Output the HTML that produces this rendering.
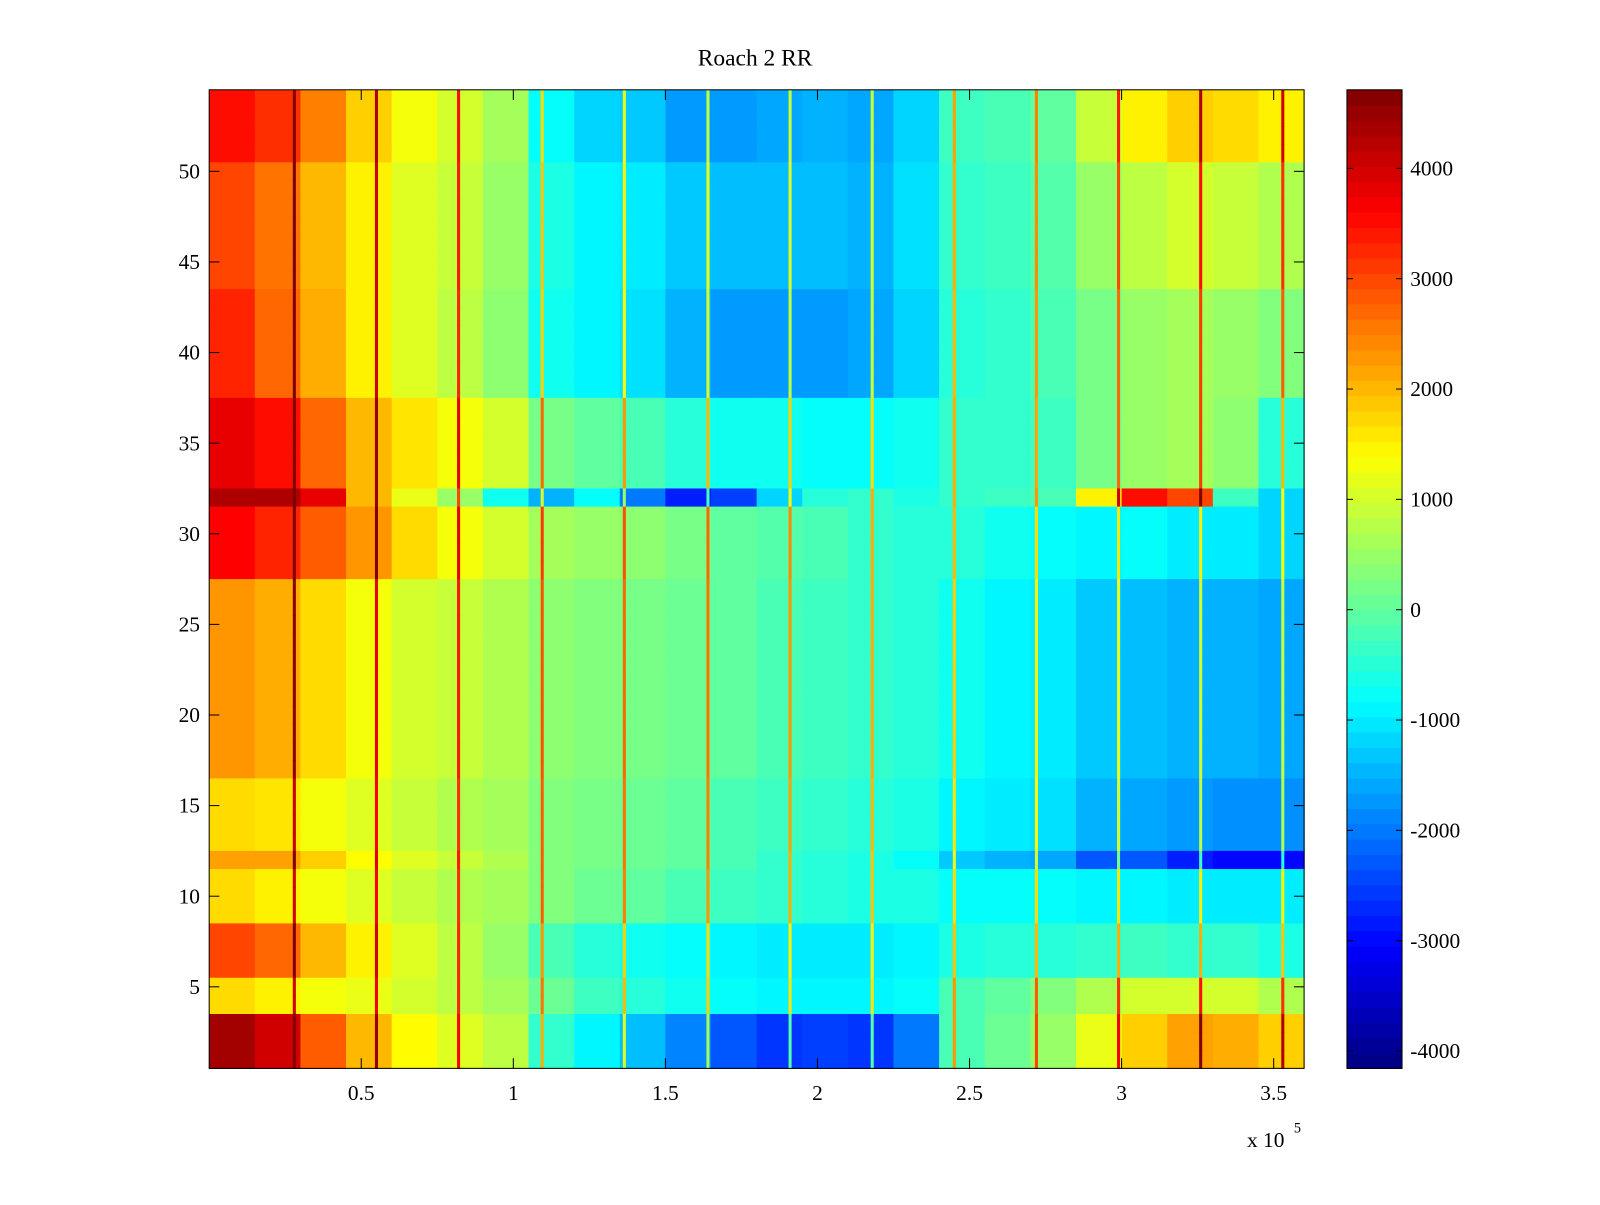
<!DOCTYPE html>
<html><head><meta charset="utf-8"><style>
body{margin:0;background:#fff;}
svg text{font-family:"Liberation Serif",serif;fill:#000;}
</style></head><body>
<svg id="chart" width="1600" height="1200" xmlns="http://www.w3.org/2000/svg">
<rect width="1600" height="1200" fill="#fff"/>
<g transform="scale(1.020408)">
<text x="740" y="64" font-size="23" text-anchor="middle">Roach 2 RR</text>
<g id="cells"></g>
<g id="stripes"></g>
<rect x="205" y="88" width="1073" height="959" fill="none" stroke="#000" stroke-width="1"/>
<g id="axes"></g>
<g id="cbar"></g>
<text x="1222" y="1124" font-size="21">x 10</text>
<text x="1268" y="1110" font-size="14">5</text>
</g>
</svg>
<script>
// bin width 15000 units, 24 bins from 0 to 3.6e5
const binWidth = 15000;
const bandStart = [51,44,38,33,32,28,17,13,12,9,6,4,1];
const bandEnd   = [54,50,43,37,32,31,27,16,12,11,8,5,3];
const bandA = [3500,3200,2500,1800,1300,1000,600,-800,-1200,-1300,-1700,-1700,-1600,-1500,-1600,-1200,-300,-200,0,900,1500,1800,1700,1500];
const bandB = [3000,2600,2000,1500,1100,900,500,-600,-900,-1000,-1300,-1400,-1400,-1400,-1500,-1100,-400,-300,-100,500,800,1000,900,700];
const bandC = [3300,2700,2100,1500,1100,800,400,-700,-900,-1100,-1500,-1700,-1700,-1700,-1600,-1200,-500,-400,-200,200,500,600,500,300];
const bandD = [3800,3500,2700,2000,1600,1300,1000,200,0,-200,-500,-700,-700,-800,-800,-700,-400,-400,-300,200,500,600,400,-500];
const bandE = [4300,4300,3800,2000,1200,500,-700,-1500,-800,-2000,-2800,-2500,-1200,-500,-400,-600,-400,-300,-200,1500,3500,3000,-300,-1200];
const bandF = [3600,3300,2800,2300,1700,1300,1000,600,500,400,200,0,-100,-200,-400,-500,-500,-700,-800,-900,-800,-1000,-1000,-1200];
const bandG = [2300,2100,1700,1300,1000,900,700,400,300,200,100,0,-200,-300,-400,-500,-700,-900,-1000,-1300,-1400,-1500,-1500,-1600];
const bandH = [1700,1600,1300,1100,900,700,600,300,200,100,0,-200,-300,-400,-500,-600,-900,-1000,-1100,-1500,-1600,-1700,-1800,-1800];
const bandI = [2200,2200,1800,1400,1100,900,700,300,200,100,0,-200,-400,-500,-600,-800,-1300,-1500,-1600,-2300,-2300,-2800,-3000,-3000];
const bandJ = [1700,1500,1300,1100,900,700,600,300,100,0,-200,-300,-400,-500,-600,-600,-800,-800,-800,-900,-900,-1000,-1000,-1000];
const bandK = [3000,2700,2000,1500,1100,800,500,-200,-500,-700,-800,-900,-1000,-1000,-1000,-900,-600,-500,-500,-400,-300,-400,-400,-600];
const bandL = [1700,1500,1300,1200,1000,800,600,100,-300,-500,-700,-800,-900,-900,-900,-800,-200,0,300,700,1000,1000,1000,700];
const bandM = [4400,4000,2800,2000,1400,1100,800,-400,-900,-1400,-1900,-2300,-2600,-2500,-2600,-2000,-200,100,500,1200,1800,2200,2100,1800];
const bandValues = [bandA,bandB,bandC,bandD,bandE,bandF,bandG,bandH,bandI,bandJ,bandK,bandL,bandM];
const stripeX = [28000,55000,82000,109500,136500,164000,191000,218000,245000,272000,299000,326000,353000];
const stripeBoost = 2500;
const xTicks = [0.5,1,1.5,2,2.5,3,3.5];
const xTickLabels = ["0.5","1","1.5","2","2.5","3","3.5"];
const yTicks = [5,10,15,20,25,30,35,40,45,50];
const cTicks = [4000,3000,2000,1000,0,-1000,-2000,-3000,-4000];

const NS="http://www.w3.org/2000/svg";
const L=205,R=1278,T=88,B=1047;
const xMin=0,xMax=360000,yMin=0.5,yMax=54.5,cMin=-4157,cMax=4712;
const xs=v=>L+(v-xMin)/(xMax-xMin)*(R-L);
const ys=v=>T+(yMax-v)/(yMax-yMin)*(B-T);
function jet(v){let t=(v-cMin)/(cMax-cMin);t=Math.max(0,Math.min(1,t));
 const c=x=>Math.round(255*Math.max(0,Math.min(1,x)));
 return `rgb(${c(1.5-Math.abs(4*t-3))},${c(1.5-Math.abs(4*t-2))},${c(1.5-Math.abs(4*t-1))})`;}
function mk(tag,attrs,parent){const e=document.createElementNS(NS,tag);for(const k in attrs)e.setAttribute(k,attrs[k]);parent.appendChild(e);return e;}

const cells=document.getElementById('cells');
const stripes=document.getElementById('stripes');
bandValues.forEach((vals,b)=>{
 for(let r=bandStart[b];r<=bandEnd[b];r++){
  const y0=ys(r+0.5),y1=ys(r-0.5);
  vals.forEach((v,k)=>{
   const x0=xs(k*binWidth),x1=xs((k+1)*binWidth);
   const el=mk('rect',{x:x0,y:y0,width:x1-x0+0.6,height:y1-y0+0.6,fill:jet(v)},cells);
   
   
  });
  stripeX.forEach(sx=>{
   const k=Math.min(vals.length-1,Math.floor(sx/binWidth));
   const el=mk('rect',{x:xs(sx)-1.5,y:y0,width:3,height:y1-y0+0.6,fill:jet(vals[k]+stripeBoost)},stripes);
   
   
  });
 }
});
const axes=document.getElementById('axes');
xTicks.forEach((t,i)=>{
 const x=xs(t*1e5);
 mk('line',{x1:x,x2:x,y1:B,y2:B-10,stroke:'#000'},axes);
 mk('line',{x1:x,x2:x,y1:T,y2:T+10,stroke:'#000'},axes);
 const tx=mk('text',{x:x,y:1078,'font-size':21,'text-anchor':'middle'},axes);tx.textContent=xTickLabels[i];
 
 
});
yTicks.forEach(t=>{
 const y=ys(t);
 mk('line',{x1:L,x2:L+10,y1:y,y2:y,stroke:'#000'},axes);
 mk('line',{x1:R,x2:R-10,y1:y,y2:y,stroke:'#000'},axes);
 const tx=mk('text',{x:196,y:y+7,'font-size':21,'text-anchor':'end'},axes);tx.textContent=t;
 
 
});
const cb=document.getElementById('cbar');
const CL=1320,CR=1374,N=64;
for(let i=0;i<N;i++){
 const v0=cMin+(cMax-cMin)*i/N,v1=cMin+(cMax-cMin)*(i+1)/N;
 const cy=v=>B-(v-cMin)/(cMax-cMin)*(B-T);
 const el=mk('rect',{x:CL,y:cy(v1),width:CR-CL,height:cy(v0)-cy(v1)+0.6,fill:jet((v0+v1)/2)},cb);
 
 
}
mk('rect',{x:CL,y:T,width:CR-CL,height:B-T,fill:'none',stroke:'#000'},cb);
cTicks.forEach(t=>{
 const y=B-(t-cMin)/(cMax-cMin)*(B-T);
 mk('line',{x1:CL,x2:CL+6,y1:y,y2:y,stroke:'#000'},cb);
 mk('line',{x1:CR,x2:CR-6,y1:y,y2:y,stroke:'#000'},cb);
 const tx=mk('text',{x:1382,y:y+7,'font-size':21},cb);tx.textContent=t;
 
 
});
</script>
</body></html>
